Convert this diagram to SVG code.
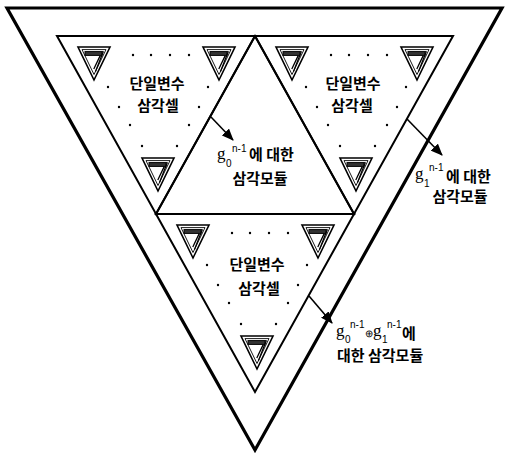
<svg xmlns="http://www.w3.org/2000/svg" xmlns:xlink="http://www.w3.org/1999/xlink" width="507" height="453" viewBox="0 0 507 453">
<style>
.outer{fill:none;stroke:#000;stroke-width:3.2;stroke-linejoin:miter}
.tri{fill:none;stroke:#000;stroke-width:2}
.ko{font-family:"Noto Sans CJK KR","Noto Sans",sans-serif;font-size:15px;font-weight:700;fill:#000}
.g{font-family:"Liberation Serif",serif;font-size:17px;fill:#000}
.sub{font-family:"Liberation Sans",sans-serif;font-size:10px;fill:#000}
.sup{font-family:"Liberation Sans",sans-serif;font-size:10px;fill:#000}
.conn{stroke:#000;stroke-width:1.6;fill:none}
</style>
<defs>
<marker id="ah" viewBox="0 0 12 10" refX="11" refY="5" markerWidth="12" markerHeight="10" markerUnits="userSpaceOnUse" orient="auto">
<path d="M0,0 L12,5 L0,10 Z" fill="#000"/>
</marker>
<g id="icon">
<path d="M0,0 L32,0 L16,33 Z" fill="#fff" stroke="#000" stroke-width="1.6"/>
<path d="M4,2.6 L28,2.6 L16,27.5 Z" fill="none" stroke="#000" stroke-width="0.9"/>
<rect x="7" y="4.6" width="17" height="3.8" fill="#333" stroke="#000" stroke-width="1"/>
<path d="M24,4.6 L25.2,5 L17.5,24.5 M22.2,8.6 L15.8,22" fill="none" stroke="#000" stroke-width="1.3"/>
</g>
<g id="cell">
<use xlink:href="#icon" x="21" y="11"/>
<use xlink:href="#icon" x="146" y="11"/>
<use xlink:href="#icon" x="85" y="122"/>
<g fill="#000">
<circle cx="76" cy="19" r="1.2"/><circle cx="94" cy="19" r="1.2"/><circle cx="113" cy="19" r="1.2"/><circle cx="132" cy="19" r="1.2"/>
<circle cx="51" cy="51" r="1.2"/><circle cx="151" cy="51" r="1.2"/>
<circle cx="62" cy="71" r="1.2"/><circle cx="142" cy="71" r="1.2"/>
<circle cx="73" cy="89" r="1.2"/><circle cx="132" cy="89" r="1.2"/>
<circle cx="85" cy="110" r="1.2"/><circle cx="120" cy="110" r="1.2"/>
</g>
</g>
</defs>
<rect width="507" height="453" fill="#fff"/>
<g id="outer-frame">
<path class="outer" d="M7,8 L502,8 L255,450 Z"/>
</g>
<g id="cell-top-left">
<path class="tri" d="M57,36 L255,36 L156,214 Z"/>
<use xlink:href="#cell" x="57" y="36"/>
<text class="ko" x="157" y="89" text-anchor="middle">단일변수</text>
<text class="ko" x="158" y="111" text-anchor="middle">삼각셀</text>
</g>
<g id="cell-top-right">
<path class="tri" d="M255,36 L453,36 L354,214 Z"/>
<use xlink:href="#cell" x="255" y="36"/>
<text class="ko" x="353" y="89" text-anchor="middle">단일변수</text>
<text class="ko" x="352" y="111" text-anchor="middle">삼각셀</text>
</g>
<g id="cell-bottom">
<path class="tri" d="M156,214 L354,214 L255,392 Z"/>
<use xlink:href="#cell" x="156" y="214"/>
<text class="ko" x="257" y="270" text-anchor="middle">단일변수</text>
<text class="ko" x="259" y="294" text-anchor="middle">삼각셀</text>
</g>
<g id="module-center">
<path class="tri" d="M255,36 L354,214 L156,214 Z"/>
<text class="g" x="217" y="159">g</text>
<text class="sub" x="226" y="167">0</text>
<text class="sup" x="232" y="152">n-1</text>
<text class="ko" x="249" y="160">에 대한</text>
<text class="ko" x="260" y="184" text-anchor="middle">삼각모듈</text>
</g>
<g id="label-right">
<text class="g" x="415" y="179">g</text>
<text class="sub" x="424" y="187">1</text>
<text class="sup" x="429" y="171">n-1</text>
<text class="ko" x="446" y="182">에 대한</text>
<text class="ko" x="460" y="202" text-anchor="middle">삼각모듈</text>
</g>
<g id="label-bottom">
<text class="g" x="336" y="336">g</text>
<text class="sub" x="345" y="343">0</text>
<text class="sup" x="350" y="328">n-1</text>
<text class="sub" x="364.5" y="337" font-size="11">⊕</text>
<text class="g" x="373" y="336">g</text>
<text class="sub" x="382" y="343">1</text>
<text class="sup" x="387" y="328">n-1</text>
<text class="ko" x="402" y="339">에</text>
<text class="ko" x="337" y="361">대한 삼각모듈</text>
</g>
<g id="connectors">
<line class="conn" x1="211" y1="117" x2="233" y2="140" marker-end="url(#ah)"/>
<line class="conn" x1="407" y1="119" x2="442" y2="155" marker-end="url(#ah)"/>
<line class="conn" x1="309" y1="296" x2="332" y2="323" marker-end="url(#ah)"/>
</g>
</svg>
